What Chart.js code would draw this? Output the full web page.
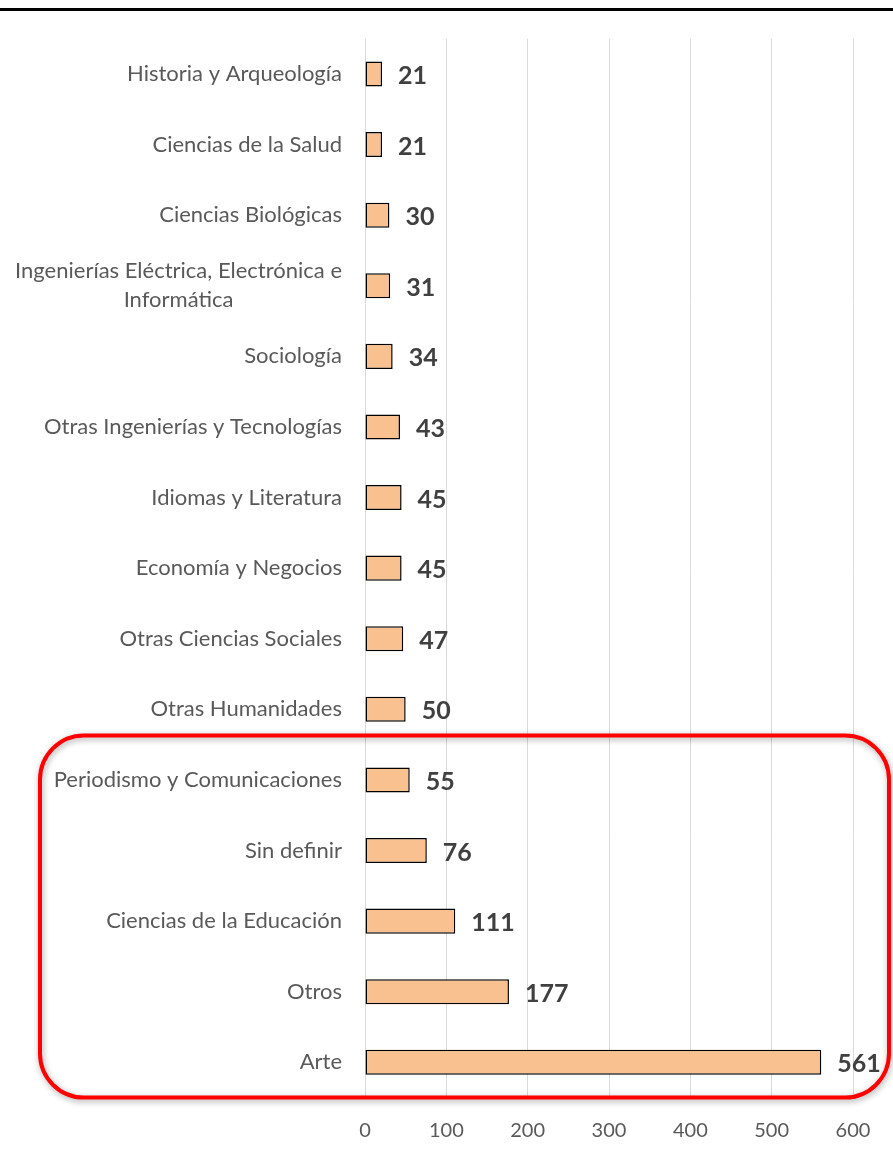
<!DOCTYPE html>
<html><head><meta charset="utf-8">
<script src="https://cdn.jsdelivr.net/npm/chart.js@4.4.1/dist/chart.umd.min.js"></script>
<style>
html,body{margin:0;padding:0;background:#fff;}
#wrap{position:relative;width:893px;height:1154px;}
#topline{position:absolute;left:0;top:8px;width:893px;height:3px;background:#000;}
canvas{position:absolute;left:0;top:0;}
</style></head>
<body><div id="wrap"><div id="topline"></div><canvas id="c" width="893" height="1154"></canvas></div>
<script>
const categories = [
  "Historia y Arqueología",
  "Ciencias de la Salud",
  "Ciencias Biológicas",
  ["Ingenierías Eléctrica, Electrónica e","Informática"],
  "Sociología",
  "Otras Ingenierías y Tecnologías",
  "Idiomas y Literatura",
  "Economía y Negocios",
  "Otras Ciencias Sociales",
  "Otras Humanidades",
  "Periodismo y Comunicaciones",
  "Sin definir",
  "Ciencias de la Educación",
  "Otros",
  "Arte"
];
const values = [21,21,30,31,34,43,45,45,47,50,55,76,111,177,561];
const xTicks = [0,100,200,300,400,500,600];
const highlightFrom = 10; // first highlighted category index

const FONT = "Lato, 'Open Sans', sans-serif";

const labelsPlugin = {
  id:'customLabels',
  afterDatasetsDraw(chart){
    const ctx = chart.ctx;
    const ys = chart.scales.y;
    const meta = chart.getDatasetMeta(0);
    ctx.save();
    // value labels
    ctx.font = "bold 25px " + FONT;
    ctx.fillStyle = "#404040";
    ctx.textAlign = "left"; ctx.textBaseline = "middle";
    meta.data.forEach((bar,i)=>{
      ctx.fillText(String(values[i]), bar.x + 16, bar.y + 2);
    });
    // category labels
    ctx.font = "22px " + FONT;
    ctx.fillStyle = "#595959";
    const rightX = chart.chartArea.left - 23;
    categories.forEach((lab,i)=>{
      const lines = Array.isArray(lab) ? lab : [lab];
      const w = Math.max(...lines.map(l=>ctx.measureText(l).width));
      const cy = ys.getPixelForValue(i);
      const lh = 29;
      ctx.textAlign = "center";
      lines.forEach((l,k)=>{
        ctx.fillText(l, rightX - w/2, cy + (k - (lines.length-1)/2)*lh);
      });
    });
    // highlight rounded rect
    const band = ys.getPixelForValue(1) - ys.getPixelForValue(0);
    const top = ys.getPixelForValue(highlightFrom) - band*0.63;
    const bottom = chart.chartArea.bottom;
    const left = 40, right = chart.width - 4, r = 44;
    ctx.shadowColor = "rgba(0,0,0,0.35)";
    ctx.shadowBlur = 6; ctx.shadowOffsetX = 1; ctx.shadowOffsetY = 2;
    ctx.strokeStyle = "#FF0000"; ctx.lineWidth = 4;
    ctx.beginPath();
    ctx.roundRect(left, top, right-left, bottom-top, r);
    ctx.stroke();
    ctx.restore();
  }
};

new Chart(document.getElementById('c'), {
  type:'bar',
  data:{
    labels: categories,
    datasets:[{
      data: values,
      backgroundColor:'#F9C18F',
      borderColor:'#000000',
      borderWidth:1.5,
      borderSkipped:false,
      categoryPercentage:1,
      barPercentage:0.355
    }]
  },
  options:{
    indexAxis:'y',
    responsive:false,
    animation:false,
    devicePixelRatio:1,
    layout:{padding:{top:38.7,right:40,left:0,bottom:0}},
    plugins:{legend:{display:false},tooltip:{enabled:false}},
    scales:{
      x:{
        min:0,max:600,
        afterBuildTicks(s){ s.ticks = xTicks.map(v=>({value:v})); },
        grid:{color:'#D9D9D9',lineWidth:1,drawTicks:false},
        border:{display:false},
        ticks:{padding:21,color:'#595959',font:{family:FONT,size:20}},
        afterFit(s){ s.height = 56.4; }
      },
      y:{
        grid:{display:false,drawTicks:false},
        border:{display:false},
        ticks:{display:false},
        afterFit(s){ s.width = 365; }
      }
    }
  },
  plugins:[labelsPlugin]
});
</script></body></html>
